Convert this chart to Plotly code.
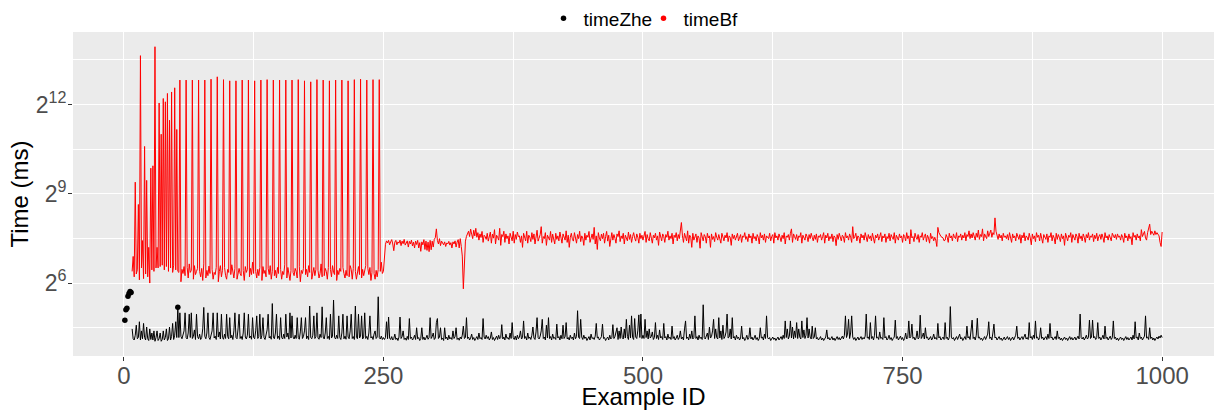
import numpy as np
import plotly.graph_objects as go

# ---------------------------------------------------------------------------
# Run time per example (ms).  timeZhe covers ids 1..1000, timeBf starts at id 8.
# ---------------------------------------------------------------------------

zhe_001_052 = [
    26.9, 34.3, 35.5, 47.2, 50.2, 52.7, 51.3,
    22, 17.5, 17, 19, 24, 17.5, 18, 26, 17, 21,
    17.5, 25, 18, 17, 23, 17.5, 16.8, 22, 17.2, 20,
    17, 21, 16.5, 18, 21, 16.8, 17.5, 20, 16.5, 17.2,
    21, 17, 18, 22, 16.8, 17.5, 23, 17, 18.5, 25,
    17.2, 19, 26, 18, 36.5,
]

zhe_053_250 = [
    18.0, 32, 18.5, 17.5, 19, 21, 32, 18, 17.4, 20,
    31, 18, 32, 17.6, 18.5, 21.5, 17.2, 31, 18.4, 17.5,
    19.5, 17.2, 18, 22, 36.3, 18.5, 17.5, 20, 32, 18,
    17.2, 19, 21, 32, 17.8, 18.6, 17.2, 32, 18.2, 20.5,
    17.4, 31, 18, 17.3, 19.5, 17.6, 31, 18.4, 17.5, 28.6,
    17.8, 19, 17.2, 21, 32, 18, 17.5, 22, 31, 17.6,
    18.5, 17.2, 20, 32, 18.2, 17.4, 19, 31, 17.8, 18.6,
    17.3, 28.6, 18, 17.5, 21, 29.8, 17.6, 18.4, 31, 17.4,
    19, 28.6, 18, 17.2, 18.8, 21.5, 31, 17.8, 18.5, 17.3,
    39.7, 18.2, 17.5, 20, 31, 17.6, 18.6, 17.2, 28.6, 18,
    17.4, 19.5, 17.6, 31, 18.2, 20, 17.3, 32, 17.8, 29.8,
    18.2, 17.4, 19, 17.6, 28.6, 18, 17.3, 20.5, 28.6, 17.6,
    18.4, 21, 28.6, 17.5, 18.6, 17.2, 37.5, 18, 17.5, 19,
    29.8, 17.6, 18.4, 32, 17.8, 17.3, 19.5, 18, 36.8, 18.2,
    17.4, 20, 28.6, 17.6, 18.5, 17.2, 31, 17.8, 18.6, 43.1,
    18, 17.4, 19, 17.6, 29.8, 18, 17.2, 20, 31, 17.5,
    18.6, 17.3, 29.8, 18.2, 17.5, 21, 31, 17.6, 18.4, 17.2,
    37.5, 18, 17.5, 31, 17.8, 18.6, 29.8, 17.4, 18.2, 32,
    17.6, 18.5, 17.2, 20, 29.8, 17.8, 18.4, 17.2, 19.5, 21,
    17.6, 18.2, 46.5, 18, 17.4, 18.6, 17.2, 18,
]

zhe_251_500 = [
    17.2, 18, 26, 17.5, 29, 17.8, 17.2, 18.4, 17, 17.6,
    19.5, 17.2, 17.8, 16.8, 18.2, 29, 17.6, 18.4, 21, 17.2,
    17.8, 16.9, 18.5, 17.2, 28, 17.6, 18.2, 17, 17.6, 19,
    17.2, 22.6, 17.5, 18, 16.8, 17.6, 22.6, 17.2, 18.2, 17,
    17.8, 19, 17.3, 18, 28.6, 17.6, 18.4, 20, 17.2, 17.8,
    25.5, 28, 17.6, 18.2, 22.6, 17.2, 17.8, 16.8, 22.6, 17.5,
    18.2, 17, 19, 17.4, 18, 17.2, 21, 17.6, 18.4, 22.6,
    17.2, 17.8, 16.9, 18.2, 17.4, 19, 23.5, 17.6, 18, 28.6,
    17.6, 18.2, 17, 17.8, 19.5, 17.2, 18, 16.8, 17.6, 18.4,
    17.2, 20, 17.5, 18, 17.2, 28, 18.2, 17.4, 19, 17.6,
    18.4, 17, 17.8, 20.5, 17.2, 18, 16.8, 17.6, 18.6, 17.2,
    19, 17.5, 18, 24.3, 17.4, 18.2, 17, 19.5, 17.6, 18,
    17.2, 20, 17.6, 25.5, 18, 17.2, 18.6, 17, 19, 17.5,
    18.2, 21, 17.4, 18, 26.5, 17.6, 18.4, 17, 20, 17.6,
    18.2, 17.2, 19, 23, 17.8, 17.2, 20.5, 28.6, 18, 17.4,
    18.6, 21, 27.5, 17.6, 18.2, 17, 24, 17.8, 28.6, 17.6,
    18.4, 17, 19.5, 17.6, 18, 17.2, 24.6, 17.8, 18.4, 17,
    19, 17.5, 24, 17.6, 18.4, 25.5, 17.4, 18, 17, 19,
    17.6, 18.2, 17, 20, 17.5, 18.4, 33.6, 18, 17.6, 27.5,
    18.2, 17.2, 19, 17.6, 18.2, 16.8, 17.6, 18.4, 17, 19.5,
    17.6, 18, 17.2, 18.6, 25, 17.8, 18.2, 17, 17.6, 18.4,
    24.6, 17.6, 18, 16.8, 17.6, 18.2, 17, 19, 17.4, 18,
    24.3, 17.6, 18.4, 20, 22.6, 17.2, 21, 17.6, 23, 18,
    17.4, 22, 17.8, 27.5, 18.4, 17.2, 24, 17.8, 29.8, 18,
    17.2, 28, 18.2, 17.6, 21, 30.5, 18, 31.1, 17.6, 19,
]

zhe_501_750 = [
    17.6, 27.5, 18, 21, 17.4, 22, 17.8, 18.4, 20.5, 17.2,
    18, 25.5, 17.6, 19, 17.2, 21.5, 17.8, 18.4, 17.2, 25,
    17.8, 18.4, 17, 19.5, 17.6, 18.2, 17.2, 23.5, 17.6, 18.4,
    17, 17.8, 19, 17.2, 18, 21, 17.4, 18.2, 17, 22,
    26.5, 17.6, 18.2, 17, 19.5, 17.6, 21, 17.4, 18, 29.8,
    17.6, 18.4, 17, 19, 17.6, 18.2, 17.2, 38.6, 18, 17.4,
    18.6, 20, 17.2, 23, 17.8, 18.4, 21, 27.5, 17.6, 22,
    18, 17.4, 28.6, 17.8, 21, 17.2, 24, 17.6, 18.4, 20.5,
    31.1, 17.8, 18.2, 22, 17.4, 28.6, 17.8, 18.4, 17, 19,
    17.6, 18.2, 17, 17.8, 23.5, 17.4, 18, 16.8, 17.6, 19,
    17.2, 18, 22.6, 17.4, 18.2, 17, 17.8, 19, 17.2, 18,
    16.8, 17.6, 22.6, 17.8, 18.2, 17, 19.5, 17.6, 29.8, 18,
    17.4, 18, 16.8, 17.6, 18.2, 17.2, 17.8, 16.8, 17.6, 18.2,
    17, 17.8, 18.4, 17.2, 19, 17.6, 26.5, 18, 22, 17.4,
    18.6, 26.5, 17.8, 23, 17.4, 21, 18, 25.5, 17.6, 22,
    18.2, 17.4, 26.5, 18, 21.5, 17.6, 19, 28.6, 17.8, 22,
    18.2, 17.4, 23.5, 17.6, 18.2, 22.6, 17.4, 18, 17, 17.6,
    18.4, 17, 17.8, 16.8, 17.6, 18.2, 21.5, 17.4, 18, 17,
    17.6, 18.4, 17, 17.8, 16.8, 17.6, 18.4, 17.2, 18, 17,
    17.8, 18.6, 17.4, 19, 29.8, 18, 19.5, 27.5, 17.6, 20,
    29.8, 18.2, 17.2, 18, 16.8, 17.6, 18.2, 17, 17.8, 18.4,
    17.2, 18, 17.4, 18.6, 31.1, 17.8, 18.2, 17.2, 25.5, 17.6,
    18.4, 17, 19, 29.8, 17.8, 18.2, 17.2, 20.5, 17.6, 18,
    17.2, 28.6, 17.8, 18.4, 17, 17.6, 19, 17.2, 18, 16.8,
    17.6, 18.2, 27, 17.6, 18.4, 17, 17.8, 18.6, 17.2, 18,
]

zhe_751_1000 = [
    16.8, 17.6, 20, 17.4, 18, 26.5, 17.8, 18.4, 24.6, 17.6,
    18.2, 17, 17.8, 21, 17.4, 18, 30.3, 17.6, 18.4, 20,
    17.4, 22.6, 17.8, 18.2, 17, 17.6, 18.4, 17, 17.8, 19.5,
    17.4, 18, 17.2, 25, 17.8, 18.4, 17, 17.6, 18.2, 17.2,
    25.5, 17.6, 18.2, 17, 18, 37, 18.2, 17.4, 18, 16.8,
    17.6, 18.4, 17.2, 18, 19.5, 17.4, 18, 16.8, 17.6, 18.4,
    17.2, 23.5, 17.8, 18.4, 17.2, 21, 27, 17.6, 18.2, 17,
    19, 28.2, 17.8, 18.2, 17.2, 17.8, 16.8, 17.6, 18.4, 17.2,
    18, 19.5, 26, 17.6, 18.2, 17, 20, 24.6, 17.8, 18.2,
    17, 17.6, 18.4, 17.2, 17.8, 16.8, 17.6, 18.2, 17, 17.8,
    18.4, 17.2, 18, 16.8, 17.6, 18.2, 17, 17.8, 19, 23.5,
    17.6, 18.2, 17, 17.8, 18.4, 17.2, 18, 19.5, 17.4, 18,
    17.2, 25.5, 17.8, 18.4, 17.2, 19, 17.6, 26.5, 17.8, 18.2,
    17, 18, 22.6, 17.6, 18.2, 17, 17.8, 18.4, 17.2, 19.5,
    17.6, 25, 17.8, 18.2, 17, 17.6, 18.4, 17.2, 21, 17.6,
    18.2, 17, 17.8, 16.8, 17.6, 18.2, 17.2, 17.8, 16.8, 17.6,
    18.4, 17.2, 18, 17, 17.6, 18.2, 17, 17.8, 18.6, 17.4,
    31.1, 18, 17.4, 18.2, 17, 17.8, 19, 17.4, 18, 27,
    17.6, 18.2, 27, 17.8, 18.4, 17.2, 18, 25.5, 17.6, 18.2,
    17, 17.8, 19, 17.4, 23.5, 17.6, 18.2, 17, 17.8, 18.6,
    17.2, 18, 26.5, 17.6, 18.2, 17, 17.8, 16.8, 17.6, 18.2,
    17.2, 17.8, 16.8, 17.6, 18.4, 17.2, 18, 17, 17.6, 18.2,
    17, 19, 17.4, 26, 17.8, 18.2, 17, 20, 17.6, 18.2,
    17, 17.8, 18.6, 29.8, 17.8, 18.2, 17.2, 22.6, 17.6, 18.2,
    17, 17.8, 16.8, 17.6, 18.2, 17.4, 18.6, 17.8, 19, 18,
]

bf_008_053 = [
    84, 119, 74, 671, 79, 87, 399, 69, 12763, 91,
    172, 71, 1541, 79, 699, 74, 147, 64, 929, 87,
    982, 84, 15713, 91, 147, 91, 4240, 94, 2048, 97,
    4705, 87, 4358, 94, 5293, 84, 2836, 91, 5479, 82,
    97, 6037, 87, 2288, 84, 82,
]

bf_054_246 = [
    7230, 66, 88, 80, 94, 76,
    7230, 92, 72, 100, 82, 86,
    7230, 70, 96, 78, 84, 90,
    7230, 84, 74, 90, 68, 100,
    7230, 72, 86, 76, 95, 80,
    7380, 88, 70, 82, 78, 92,
    7800, 66, 84, 96, 74, 86,
    7300, 92, 76, 70, 88, 82,
    7100, 78, 98, 84, 72, 90,
    7100, 70, 84, 90, 80, 76,
    7230, 86, 68, 94, 82, 88,
    7230, 74, 90, 78, 104, 80,
    7100, 84, 72, 88, 76, 92,
    7230, 68, 94, 80, 86, 74,
    7300, 90, 78, 96, 70, 84,
    7230, 76, 86, 72, 92, 80,
    7230, 88, 70, 84, 78, 98,
    7230, 72, 92, 80, 68, 86,
    7230, 82, 76, 90, 84, 72,
    7300, 94, 66, 86, 80, 90,
    7100, 78, 88, 74, 96, 82,
    6940, 70, 84, 92, 76, 88,
    7300, 86, 72, 80, 100, 74,
    7230, 76, 90, 84, 70, 92,
    7100, 88, 74, 96, 82, 78,
    7230, 68, 86, 78, 90, 84,
    7230, 92, 80, 72, 86, 76,
    7100, 74, 96, 88, 70, 90,
    7300, 84, 70, 82, 94, 78,
    7380, 72, 88, 76, 84, 96,
    7230, 90, 78, 92, 68, 82,
    7300, 80, 70, 86, 74, 88,
    7300,
]

bf_247_330 = [
    84, 104, 80, 84, 119, 158,
    171, 163, 173, 156, 167, 176, 159, 136, 166, 173,
    156, 167, 162, 174, 153, 170, 160, 177, 155, 164,
    171, 148, 169, 159, 174, 152, 166, 145, 170, 157,
    173, 145, 164, 134, 167, 156, 176, 140, 170, 137,
    166, 133, 173, 139, 170, 148, 177, 184, 226, 173,
    159, 180, 153, 170, 162, 156, 167, 150, 163, 159,
    169, 155, 164, 145, 167, 159, 171, 148, 166, 176,
    145, 180, 150, 120,
    56, 110, 170, 190,
]

bf_331_500 = [
    204, 214, 189, 225, 200, 180, 219, 192, 229, 186,
    207, 174, 201, 185, 213, 165, 195, 189, 177, 204,
    170, 192, 210, 162, 200, 182, 222, 159, 195, 186,
    174, 229, 154, 198, 189, 214, 165, 201, 180, 192,
    159, 204, 185, 171, 214, 162, 198, 177, 210, 189,
    192, 165, 192, 147, 204, 183, 171, 214, 162, 195,
    186, 168, 207, 177, 201, 159, 192, 219, 170, 186,
    198, 238, 162, 189, 180, 207, 154, 195, 186, 174,
    213, 165, 200, 183, 159, 204, 177, 192, 171, 210,
    185, 162, 201, 189, 174, 216, 165, 195, 147, 186,
    204, 177, 170, 207, 186, 162, 198, 180, 214, 168,
    192, 183, 154, 204, 174, 195, 186, 213, 165, 189,
    201, 177, 234, 159, 192, 140, 207, 183, 171, 200,
    180, 204, 162, 189, 213, 170, 195, 150, 186, 207,
    174, 198, 182, 162, 201, 189, 216, 168, 192, 180,
    204, 159, 195, 185, 171, 210, 177, 198, 165, 189,
    207, 183, 170, 201, 186, 162, 204, 180, 195, 174,
]

bf_501_750 = [
    189, 213, 165, 198, 180, 171, 207, 186, 162, 195,
    183, 204, 174, 192, 154, 210, 183, 171, 201, 189,
    165, 198, 186, 214, 174, 192, 180, 204, 159, 195,
    185, 207, 171, 198, 180, 222, 262, 192, 165, 204,
    183, 171, 216, 162, 195, 186, 147, 204, 174, 189,
    201, 165, 192, 183, 144, 207, 180, 171, 198, 189,
    162, 204, 183, 192, 147, 201, 177, 189, 168, 207,
    186, 174, 198, 180, 162, 204, 189, 171, 195, 183,
    207, 168, 192, 186, 154, 201, 180, 195, 174, 189,
    204, 171, 183, 198, 165, 192, 186, 207, 177, 189,
    168, 201, 183, 192, 162, 204, 180, 189, 171, 198,
    186, 159, 207, 183, 195, 174, 201, 165, 192, 186,
    180, 204, 171, 189, 198, 162, 207, 183, 192, 174,
    201, 186, 168, 195, 180, 207, 159, 192, 186, 198,
    174, 204, 226, 165, 201, 189, 177, 198, 171, 192,
    186, 207, 162, 195, 183, 174, 201, 189, 168, 198,
    180, 204, 186, 171, 195, 177, 201, 165, 192, 186,
    198, 174, 189, 207, 162, 195, 183, 204, 171, 189,
    180, 201, 168, 192, 186, 153, 198, 177, 204, 183,
    171, 195, 189, 165, 207, 183, 192, 174, 201, 186,
    165, 238, 180, 189, 204, 171, 192, 186, 162, 201,
    183, 195, 174, 207, 186, 168, 198, 180, 192, 171,
    204, 186, 162, 195, 183, 201, 174, 189, 207, 168,
    192, 183, 201, 165, 189, 180, 204, 171, 198, 186,
    177, 207, 162, 195, 186, 174, 201, 183, 192, 165,
]

bf_751_1000 = [
    198, 189, 171, 207, 180, 192, 159, 222, 183, 189,
    168, 204, 186, 177, 198, 165, 192, 186, 207, 174,
    189, 201, 168, 195, 183, 162, 204, 180, 189, 171,
    186, 174, 150, 234, 207, 195, 189, 186, 183, 171,
    174, 198, 186, 165, 204, 183, 192, 171, 201, 186,
    180, 207, 168, 192, 186, 201, 174, 195, 183, 207,
    171, 198, 189, 216, 180, 201, 183, 207, 192, 174,
    204, 186, 220, 177, 198, 189, 226, 171, 201, 192,
    180, 216, 189, 204, 220, 186, 207, 198, 292, 214,
    189, 177, 201, 183, 195, 171, 204, 186, 192, 180,
    198, 174, 207, 186, 165, 201, 183, 192, 171, 204,
    186, 177, 198, 162, 195, 183, 207, 171, 192, 186,
    174, 204, 183, 156, 201, 180, 192, 168, 207, 186,
    195, 171, 204, 183, 162, 198, 186, 177, 201, 165,
    192, 186, 207, 171, 195, 183, 159, 204, 177, 198,
    186, 168, 201, 180, 192, 154, 204, 183, 171, 195,
    186, 207, 165, 198, 183, 174, 201, 189, 162, 204,
    180, 192, 171, 201, 186, 165, 198, 183, 207, 174,
    192, 186, 201, 168, 195, 180, 204, 171, 189, 198,
    177, 201, 186, 165, 207, 183, 192, 174, 198, 186,
    171, 204, 189, 183, 198, 177, 201, 186, 192, 174,
    198, 186, 165, 204, 183, 192, 171, 201, 180, 189,
    156, 207, 186, 195, 174, 201, 183, 192, 171, 222,
    189, 201, 213, 183, 174, 207, 225, 252, 198, 214,
    204, 195, 216, 198, 207, 201, 192, 165, 150, 210,
]

BF_FIRST_ID = 8           # first example with a timeBf measurement
ZHE_LINE_FIRST_ID = 8     # timeZhe line is drawn from here on
ZHE_POINT_IDS = [1, 2, 3, 4, 5, 6, 7, 52]   # timeZhe examples drawn as dots

x_tick_values = [0, 250, 500, 750, 1000]
x_minor_values = [125, 375, 625, 875]
y_tick_exponents = [6, 9, 12]
y_minor_exponents = [4.5, 7.5, 10.5, 13.5]

# ---------------------------------------------------------------------------
zhe = np.array(zhe_001_052 + zhe_053_250 + zhe_251_500 + zhe_501_750 + zhe_751_1000, dtype=float)
bf = np.array(bf_008_053 + bf_054_246 + bf_247_330 + bf_331_500 + bf_501_750 + bf_751_1000, dtype=float)
zhe_ids = np.arange(1, len(zhe) + 1)
bf_ids = np.arange(BF_FIRST_ID, BF_FIRST_ID + len(bf))

line_mask = zhe_ids >= ZHE_LINE_FIRST_ID
point_ids = np.array(ZHE_POINT_IDS)
point_vals = zhe[point_ids - 1]

# ggplot-style 5% expansion of the data range
x_lo, x_hi = min(zhe_ids.min(), bf_ids.min()), max(zhe_ids.max(), bf_ids.max())
x_pad = 0.05 * (x_hi - x_lo)
l_all = np.log10(np.concatenate([zhe, bf]))
y_pad = 0.05 * (l_all.max() - l_all.min())
y_range = [l_all.min() - y_pad, l_all.max() + y_pad]

FONT = "Liberation Sans, Arial, sans-serif"
GRID = "#FFFFFF"

fig = go.Figure()
fig.add_trace(go.Scatter(
    x=zhe_ids[line_mask], y=zhe[line_mask], mode="lines",
    line=dict(color="#000000", width=1), showlegend=False, name="timeZhe",
))
fig.add_trace(go.Scatter(
    x=bf_ids, y=bf, mode="lines",
    line=dict(color="#FF0000", width=1), showlegend=False, name="timeBf",
))
fig.add_trace(go.Scatter(
    x=point_ids, y=point_vals, mode="markers",
    marker=dict(color="#000000", size=5.5), name="timeZhe",
))
fig.add_trace(go.Scatter(
    x=[None], y=[None], mode="markers",
    marker=dict(color="#FF0000", size=5.5), name="timeBf",
))

fig.update_layout(
    width=1216, height=410,
    margin=dict(l=73, r=2, t=32, b=54, autoexpand=False),
    paper_bgcolor="#FFFFFF",
    plot_bgcolor="#EBEBEB",
    font=dict(family=FONT, color="#000000"),
    legend=dict(
        orientation="h", x=0.5, xanchor="center",
        yref="container", y=0.955, yanchor="middle",
        font=dict(size=19, color="#000000"), bgcolor="rgba(0,0,0,0)",
        itemwidth=30, entrywidth=55, entrywidthmode="pixels",
    ),
    showlegend=True,
)

fig.update_xaxes(
    range=[x_lo - x_pad, x_hi + x_pad],
    automargin=False,
    tickmode="array", tickvals=x_tick_values,
    ticks="outside", ticklen=4, tickwidth=1, tickcolor="#333333",
    tickfont=dict(size=24, color="#4D4D4D", family=FONT),
    ticklabelstandoff=-6,
    showgrid=True, gridcolor=GRID, gridwidth=1.1,
    minor=dict(tickvals=x_minor_values, showgrid=True, gridcolor=GRID, gridwidth=0.55, ticklen=0),
    zeroline=False, showline=False,
    title=dict(text="Example ID", font=dict(size=24, color="#000000", family=FONT), standoff=5),
)

fig.update_yaxes(
    type="log", range=y_range,
    automargin=False,
    tickmode="array",
    tickvals=[2.0 ** e for e in y_tick_exponents],
    ticktext=[f"2<sup>{e}</sup>" for e in y_tick_exponents],
    ticks="outside", ticklen=4, tickwidth=1, tickcolor="#333333",
    tickfont=dict(size=23, color="#4D4D4D", family=FONT),
    ticklabelstandoff=-3,
    showgrid=True, gridcolor=GRID, gridwidth=1.1,
    minor=dict(tickvals=[2.0 ** e for e in y_minor_exponents], showgrid=True,
               gridcolor=GRID, gridwidth=0.55, ticklen=0),
    zeroline=False, showline=False,
    title=dict(text="Time (ms)", font=dict(size=24, color="#000000", family=FONT), standoff=0),
)

fig.write_html("out.html")
